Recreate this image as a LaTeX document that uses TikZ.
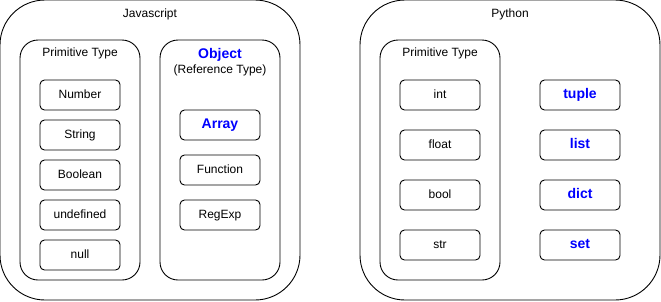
\documentclass[tikz,border=0pt]{standalone}
\usepackage{fontspec}
\setmainfont{Liberation Sans}
\usetikzlibrary{positioning}

\begin{document}
\begin{tikzpicture}[x=1pt,y=-1pt,
  group/.style={rectangle,draw,rounded corners=45pt,line width=0.9pt,outer sep=0pt,
                minimum width=300pt, minimum height=300pt},
  panel/.style={rectangle,draw,rounded corners=18pt,line width=0.9pt,outer sep=0pt,
                minimum width=120pt, minimum height=240pt},
  item/.style={rectangle,draw,rounded corners=4.5pt,line width=0.9pt,outer sep=0pt,
               minimum width=80pt, minimum height=30pt, inner sep=0pt,
               text height=0.72em, text depth=0pt,
               font=\fontsize{12}{14}\selectfont},
  kind/.style={item,text=blue,font=\fontsize{14}{16}\selectfont\bfseries},
  title/.style={inner sep=0pt,text height=0.72em,text depth=0pt,
                font=\fontsize{12}{14}\selectfont},
  node distance=10pt
]
  \useasboundingbox (0,0) rectangle (661,301);

  % Javascript
  \node[group] (js)   at (150,150) {};
  \node[title] (jsname) at (150,14) {Javascript};
  \node[panel] (jsprim) at (80,160) {};
  \node[title] (jsprimname) at (80,53) {Primitive Type};
  \node[panel] (jsobj)  at (220,160) {};
  \node[title,text=blue,font=\fontsize{14}{16}\selectfont\bfseries] (objname) at (220,55) {Object};
  \node[title] (objsub) at (220,70) {(Reference Type)};

  \node[item]               (number)    at (80,95) {Number};
  \node[item, below=of number]    (string)    {String};
  \node[item, below=of string]    (boolean)   {Boolean};
  \node[item, below=of boolean]   (undefined) {undefined};
  \node[item, below=of undefined] (null)      {null};

  \node[kind]                     (array)    at (220,125) {Array};
  \node[item, below=15pt of array]    (function) {Function};
  \node[item, below=15pt of function] (regexp)   {RegExp};

  % Python
  \node[group] (py)   at (510,150) {};
  \node[title] (pyname) at (510,14) {Python};
  \node[panel] (pyprim) at (440,160) {};
  \node[title] (pyprimname) at (440,53) {Primitive Type};

  \node[item]                   (int)   at (440,95) {int};
  \node[item, below=20pt of int]   (float) {float};
  \node[item, below=20pt of float] (bool)  {bool};
  \node[item, below=20pt of bool]  (str)   {str};

  \node[kind]                   (tuple) at (580,95) {tuple};
  \node[kind, below=20pt of tuple] (list)  {list};
  \node[kind, below=20pt of list]  (dict)  {dict};
  \node[kind, below=20pt of dict]  (set)   {set};
\end{tikzpicture}
\end{document}
